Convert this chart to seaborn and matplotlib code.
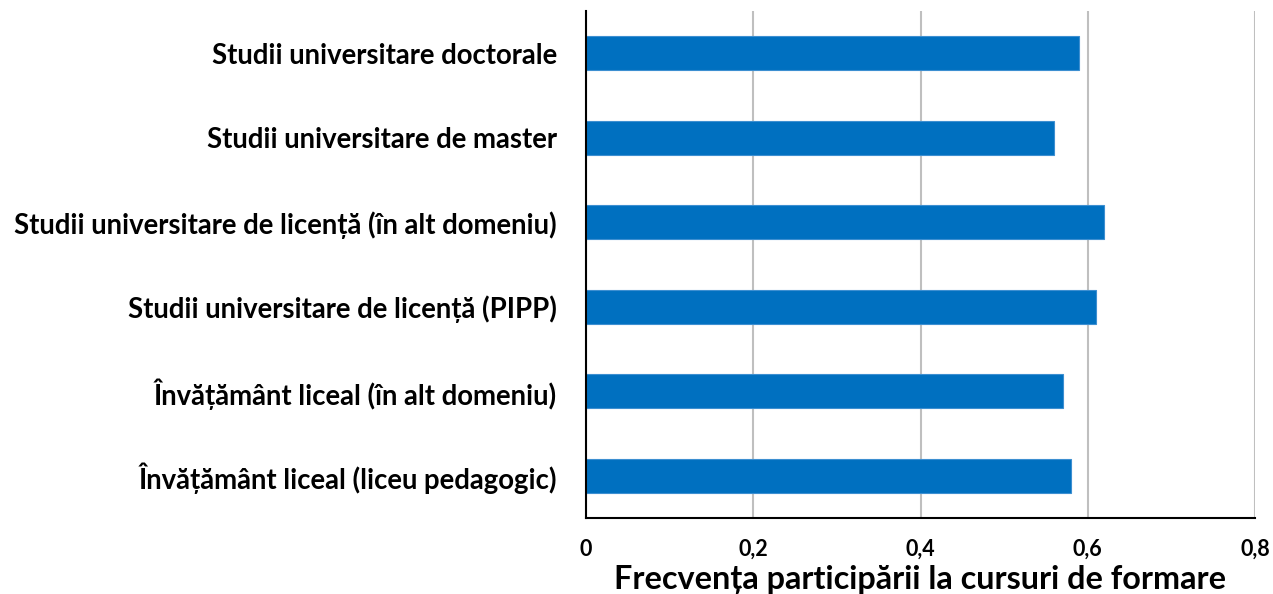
import matplotlib
matplotlib.use("Agg")
import matplotlib.pyplot as plt
import seaborn as sns
import pandas as pd
from matplotlib.ticker import FuncFormatter

categories = [
    "Studii universitare doctorale",
    "Studii universitare de master",
    "Studii universitare de licență (în alt domeniu)",
    "Studii universitare de licență (PIPP)",
    "Învățământ liceal (în alt domeniu)",
    "Învățământ liceal (liceu pedagogic)",
]
values = [0.59, 0.56, 0.62, 0.61, 0.57, 0.58]
x_ticks = [0, 0.2, 0.4, 0.6, 0.8]
x_label = "Frecvența participării la cursuri de formare"

sns.set_theme(style="white")
plt.rcParams["font.family"] = ["Lato", "DejaVu Sans"]

df = pd.DataFrame({"cat": categories, "val": values})

fig = plt.figure(figsize=(12.73, 5.94), dpi=100)
ax = fig.add_axes([586/1273, 76/594, 669/1273, 507/594])

sns.barplot(data=df, y="cat", x="val", orient="h", color="#0070C0",
            width=0.4, saturation=1, edgecolor="#3D8FD1", linewidth=0.8, ax=ax)

ax.set_xlim(0, 0.8)
ax.set_ylim(5.5, -0.5)
ax.set_xticks(x_ticks)
ax.xaxis.set_major_formatter(FuncFormatter(lambda v, p: ("%g" % round(v, 1)).replace(".", ",")))
ax.grid(axis="x", color="#BFBFBF", linewidth=1.5)
ax.set_axisbelow(True)
for s in ["top", "right"]:
    ax.spines[s].set_visible(False)
for s in ["left", "bottom"]:
    ax.spines[s].set_visible(True)
    ax.spines[s].set_color("black")
    ax.spines[s].set_linewidth(1.5)

ax.tick_params(axis="both", length=0)
ax.tick_params(axis="x", pad=15, labelsize=15.5)
ax.tick_params(axis="y", pad=21, labelsize=19.8)
for lbl in ax.get_xticklabels() + ax.get_yticklabels():
    lbl.set_fontweight("bold")
    lbl.set_color("black")

ax.set_ylabel("")
ax.set_xlabel(x_label, fontsize=23.3, fontweight="bold", color="black", labelpad=4)

fig.savefig("out.png", dpi=100)
